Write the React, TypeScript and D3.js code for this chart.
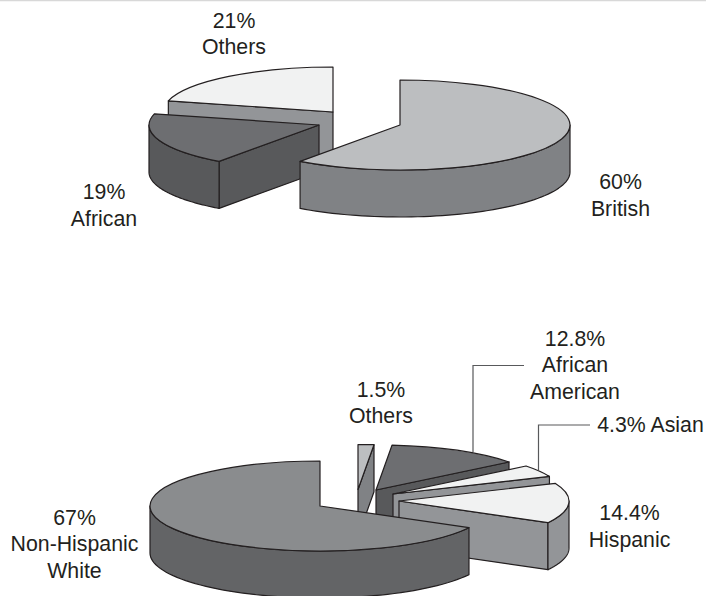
import * as d3 from "d3";

const originValues = [60, 19, 21];
const originFill = ["#bcbec0", "#6d6e71", "#f1f2f2"];
const originSide = ["#808285", "#58595b", "#939598"];
const originCentre = [[400, 125], [319, 125], [333, 112]];

const raceValues = [1.5, 12.8, 4.3, 14.4, 67];
const raceFill = ["#bcbec0", "#6d6e71", "#f1f2f2", "#f1f2f2", "#8a8c8e"];
const raceSide = ["#808285", "#58595b", "#939598", "#939598", "#636466"];
const raceCentre = [[358, 489.5], [376, 490], [393, 494], [399, 501], [320, 506]];

const labels = [
  { x: 234, y: 27.5, lines: ["21%", "Others"] },
  { x: 620.5, y: 189, lines: ["60%", "British"] },
  { x: 104, y: 199, lines: ["19%", "African"] },
  { x: 381, y: 396.5, lines: ["1.5%", "Others"] },
  { x: 575, y: 345.5, lines: ["12.8%", "African", "American"] },
  { x: 650.5, y: 431.5, lines: ["4.3% Asian"] },
  { x: 629.5, y: 520, lines: ["14.4%", "Hispanic"] },
  { x: 74.5, y: 524.5, lines: ["67%", "Non-Hispanic", "White"] },
];

const leaders = [
  [[473, 452], [473, 365.5], [524, 365.5]],
  [[538.5, 470], [538.5, 425], [590, 425]],
];

const rx = 170;
const ry = 45;
const depth = 47;
const ink = "#231f20";

const px = (a: number) => rx * Math.sin(a);
const py = (a: number) => -ry * Math.cos(a);
const line = d3.line();

function Wedge({ slice, centre, fill, side }: any) {
  const [cx, cy] = centre;
  const { startAngle: a0, endAngle: a1 } = slice;
  const top = d3.arc()({ innerRadius: 0, outerRadius: rx, startAngle: a0, endAngle: a1 } as any);

  // cut faces that turn toward the viewer
  const faces = [
    { a: a0, normal: a0 - Math.PI / 2 },
    { a: a1, normal: a1 + Math.PI / 2 },
  ].filter((f) => Math.cos(f.normal) < -1e-6);

  // outer rim, only the front half of the ellipse shows
  const r0 = Math.max(a0, Math.PI / 2);
  const r1 = Math.min(a1, (3 * Math.PI) / 2);
  let rim: string | null = null;
  if (r1 > r0) {
    const angles = d3.range(0, 61).map((i) => r0 + ((r1 - r0) * i) / 60);
    const upper = angles.map((a) => [px(a), py(a)] as [number, number]);
    const lower = angles.map((a) => [px(a), py(a) + depth] as [number, number]).reverse();
    rim = line([...upper, ...lower]) + "Z";
  }

  return (
    <g transform={`translate(${cx},${cy})`} stroke={ink} strokeWidth={1.2} strokeLinejoin="round">
      {faces.map((f, i) => (
        <path
          key={i}
          fill={side}
          d={
            line([
              [0, 0],
              [px(f.a), py(f.a)],
              [px(f.a), py(f.a) + depth],
              [0, depth],
            ]) + "Z"
          }
        />
      ))}
      {rim && <path fill={side} d={rim} />}
      <path
        d={top as string}
        fill={fill}
        transform={`scale(1,${ry / rx})`}
        style={{ vectorEffect: "non-scaling-stroke" }}
      />
    </g>
  );
}

export default function App() {
  const pie = d3.pie<number>().sort(null).value((d) => d);
  const originSlices = pie(originValues);
  const raceSlices = pie(raceValues);
  const originOrder = [2, 1, 0];

  return (
    <svg
      width={706}
      height={596}
      style={{ position: "absolute", left: 0, top: 0, display: "block", background: "#fff" }}
      fontFamily="'Liberation Sans', Arial, sans-serif"
      fontSize={21.3}
      fill="#231f20"
    >
      <line x1={0} x2={706} y1={0.5} y2={0.5} stroke="#d8d8d8" strokeWidth={1.5} />
      {originOrder.map((i) => (
        <Wedge key={i} slice={originSlices[i]} centre={originCentre[i]} fill={originFill[i]} side={originSide[i]} />
      ))}
      {raceSlices.map((s, i) => (
        <Wedge key={i} slice={s} centre={raceCentre[i]} fill={raceFill[i]} side={raceSide[i]} />
      ))}
      {leaders.map((l, i) => (
        <path key={i} d={line(l as [number, number][]) as string} fill="none" stroke="#58595b" strokeWidth={1.2} />
      ))}
      {labels.map((l, i) => (
        <text key={i} textAnchor="middle" x={l.x} y={l.y}>
          {l.lines.map((t, j) => (
            <tspan key={j} x={l.x} dy={j === 0 ? 0 : 26.7}>
              {t}
            </tspan>
          ))}
        </text>
      ))}
    </svg>
  );
}
